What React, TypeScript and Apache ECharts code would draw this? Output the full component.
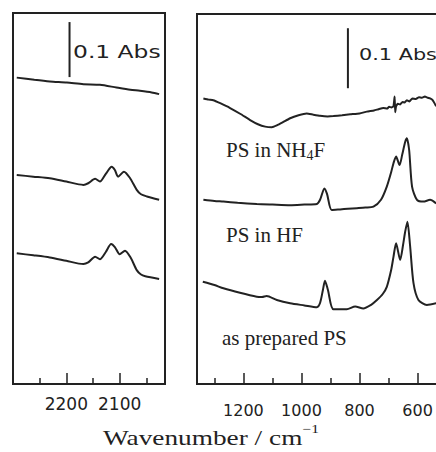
import React, { useEffect, useRef } from "react";
import * as echarts from "echarts";

const INK = "#222222";
const SANS = '"DejaVu Sans", sans-serif';
const SERIF = '"Liberation Serif", "Times New Roman", serif';

// ---- Left panel: 2300-2015 cm-1 (Si-H stretch) ----
const leftTickLabels = [2200, 2100];

const leftTopWn = [2293, 2260, 2231, 2199, 2168, 2137, 2106, 2080, 2062, 2040, 2026];
const leftTopAbs = [0.557, 0.553, 0.55, 0.548, 0.545, 0.544, 0.539, 0.535, 0.533, 0.53, 0.527];

const leftMidWn = [2293, 2262, 2231, 2200, 2168, 2159, 2146, 2137, 2126, 2115, 2109, 2103, 2092, 2081, 2068, 2060, 2049, 2026];
const leftMidAbs = [0.38, 0.377, 0.374, 0.368, 0.362, 0.365, 0.373, 0.368, 0.382, 0.395, 0.389, 0.377, 0.386, 0.375, 0.353, 0.345, 0.341, 0.335];

const leftBotWn = [2293, 2262, 2231, 2200, 2168, 2159, 2146, 2137, 2126, 2116, 2109, 2100, 2090, 2079, 2068, 2060, 2052, 2026];
const leftBotAbs = [0.2376, 0.234, 0.23, 0.224, 0.218, 0.221, 0.2315, 0.2267, 0.24, 0.2545, 0.249, 0.236, 0.2424, 0.229, 0.207, 0.199, 0.196, 0.191];

const leftBarWn = [2194, 2194];
const leftBarAbs = [0.558, 0.658];

// ---- Right panel: 1360-440 cm-1 ----
const rightTickLabels = [1200, 1000, 800, 600];

const rightTopWn = [1338, 1320, 1304, 1280, 1246, 1210, 1177, 1150, 1125, 1102, 1085, 1065, 1039, 1010, 982, 960, 936, 910, 890, 860, 832, 800, 775, 750, 735, 718, 705, 698, 690, 683, 679, 677, 674, 668, 660, 652, 645, 637, 628, 618, 606, 595, 585, 575, 565, 557, 548, 536];
const rightTopAbs = [0.476, 0.474, 0.473, 0.468, 0.46, 0.45, 0.44, 0.433, 0.429, 0.428, 0.431, 0.436, 0.443, 0.448, 0.451, 0.449, 0.447, 0.446, 0.4465, 0.448, 0.4495, 0.451, 0.454, 0.456, 0.458, 0.46, 0.459, 0.462, 0.461, 0.463, 0.479, 0.453, 0.463, 0.467, 0.466, 0.47, 0.469, 0.473, 0.471, 0.476, 0.475, 0.478, 0.477, 0.479, 0.477, 0.476, 0.473, 0.463];

const rightMidWn = [1338, 1300, 1269, 1220, 1154, 1100, 1039, 990, 947, 936, 921, 912, 896, 867, 840, 809, 780, 752, 726, 706, 691, 683, 674, 662, 653, 643, 637, 629, 619, 602, 580, 557, 536];
const rightMidAbs = [0.307, 0.305, 0.304, 0.302, 0.3, 0.299, 0.298, 0.299, 0.3, 0.307, 0.326, 0.317, 0.29, 0.291, 0.292, 0.293, 0.294, 0.2955, 0.307, 0.329, 0.353, 0.368, 0.379, 0.365, 0.382, 0.403, 0.4095, 0.39, 0.329, 0.307, 0.304, 0.307, 0.301];

const rightBotWn = [1340, 1300, 1269, 1212, 1154, 1136, 1120, 1085, 1039, 990, 947, 936, 926, 919, 909, 890, 844, 815, 787, 760, 740, 720, 706, 691, 683, 674, 660, 650, 643, 635, 626, 614, 597, 568, 536];
const rightBotAbs = [0.1705, 0.165, 0.1595, 0.152, 0.1455, 0.145, 0.1467, 0.14, 0.1345, 0.131, 0.128, 0.135, 0.157, 0.172, 0.157, 0.1245, 0.1245, 0.129, 0.126, 0.132, 0.14, 0.15, 0.162, 0.19, 0.212, 0.2345, 0.2067, 0.2317, 0.253, 0.2705, 0.2317, 0.168, 0.14, 0.1317, 0.1345];

const rightBarWn = [840, 840];
const rightBarAbs = [0.493, 0.593];

const pairs = (xs: number[], ys: number[]) => xs.map((x, i) => [x, ys[i]]);

function trace(xi: number, yi: number, xs: number[], ys: number[], smooth: number | boolean = 0.25) {
  return {
    type: "line",
    xAxisIndex: xi,
    yAxisIndex: yi,
    data: pairs(xs, ys),
    showSymbol: false,
    symbol: "none",
    smooth,
    lineStyle: { color: INK, width: 2 },
    silent: true,
  };
}

function xAxis(gridIndex: number, min: number, max: number, splitNumber: number, labels: number[], fontSize: number, margin: number) {
  return {
    type: "value",
    gridIndex,
    min,
    max,
    splitNumber,
    inverse: true,
    position: "bottom",
    splitLine: { show: false },
    minorSplitLine: { show: false },
    axisLine: { show: false },
    axisTick: { show: true, inside: true, length: 11, lineStyle: { color: INK, width: 1.5 } },
    minorTick: { show: true, splitNumber: 2, length: 6, lineStyle: { color: INK, width: 1.5 } },
    axisLabel: {
      show: true,
      margin,
      color: INK,
      fontFamily: SANS,
      fontSize,
      formatter: (v: number) => (labels.indexOf(v) >= 0 ? String(v) : ""),
    },
  };
}

export default function App() {
  const ref = useRef<HTMLDivElement>(null);
  useEffect(() => {
    if (!ref.current) return;
    const chart = echarts.init(ref.current, undefined, { renderer: "svg" });
    const gridCommon = { show: true, borderColor: INK, borderWidth: 2, backgroundColor: "transparent", containLabel: false, outerBoundsMode: "none" };
    const option: any = {
      animation: false,
      backgroundColor: "#ffffff",
      grid: [
        { ...gridCommon, left: 13, top: 13, width: 152, height: 371 },
        { ...gridCommon, left: 197, top: 14, width: 267, height: 370 },
      ],
      xAxis: [
        xAxis(0, 2015, 2300, 3, leftTickLabels, 17, 11),
        xAxis(1, 440, 1360, 5, rightTickLabels, 16, 18),
      ],
      yAxis: [
        { type: "value", gridIndex: 0, min: 0, max: 0.6745, show: false, splitLine: { show: false } },
        { type: "value", gridIndex: 1, min: 0, max: 0.6167, show: false, splitLine: { show: false } },
      ],
      series: [
        trace(0, 0, leftTopWn, leftTopAbs),
        trace(0, 0, leftMidWn, leftMidAbs),
        trace(0, 0, leftBotWn, leftBotAbs),
        trace(0, 0, leftBarWn, leftBarAbs, false),
        trace(1, 1, rightTopWn, rightTopAbs, 0.15),
        trace(1, 1, rightMidWn, rightMidAbs),
        trace(1, 1, rightBotWn, rightBotAbs),
        trace(1, 1, rightBarWn, rightBarAbs, false),
      ],
      graphic: [
        {
          type: "text",
          x: 73,
          y: 52,
          scaleX: 1.3,
          style: { text: "0.1 Abs", font: `18px ${SANS}`, fill: INK, verticalAlign: "middle", align: "left" },
        },
        {
          type: "text",
          x: 359,
          y: 54,
          scaleX: 1.3,
          style: { text: "0.1 Abs", font: `16px ${SANS}`, fill: INK, verticalAlign: "middle", align: "left" },
        },
        {
          type: "text",
          x: 226,
          y: 150,
          style: {
            text: "{a|PS in NH}{b|4}{a|F}",
            fill: INK,
            verticalAlign: "middle",
            align: "left",
            rich: {
              a: { fontFamily: SERIF, fontSize: 21, lineHeight: 24, color: INK },
              b: { fontFamily: SERIF, fontSize: 14, lineHeight: 14, verticalAlign: "bottom", color: INK },
            },
          },
        },
        {
          type: "text",
          x: 226,
          y: 235,
          style: { text: "PS in HF", font: `21px ${SERIF}`, fill: INK, verticalAlign: "middle", align: "left" },
        },
        {
          type: "text",
          x: 222,
          y: 338,
          style: { text: "as prepared PS", font: `21px ${SERIF}`, fill: INK, verticalAlign: "middle", align: "left" },
        },
        {
          type: "text",
          x: 103,
          y: 438,
          scaleX: 1.3,
          style: {
            text: "{a|Wavenumber / cm}{s|−1}",
            fill: INK,
            verticalAlign: "middle",
            align: "left",
            rich: {
              a: { fontFamily: SERIF, fontSize: 21, lineHeight: 30, color: INK },
              s: { fontFamily: SERIF, fontSize: 12, lineHeight: 12, verticalAlign: "top", color: INK },
            },
          },
        },
      ],
    };
    chart.setOption(option);
    return () => chart.dispose();
  }, []);
  return <div ref={ref} style={{ position: "fixed", left: 0, top: 0, width: 436, height: 452 }} />;
}
